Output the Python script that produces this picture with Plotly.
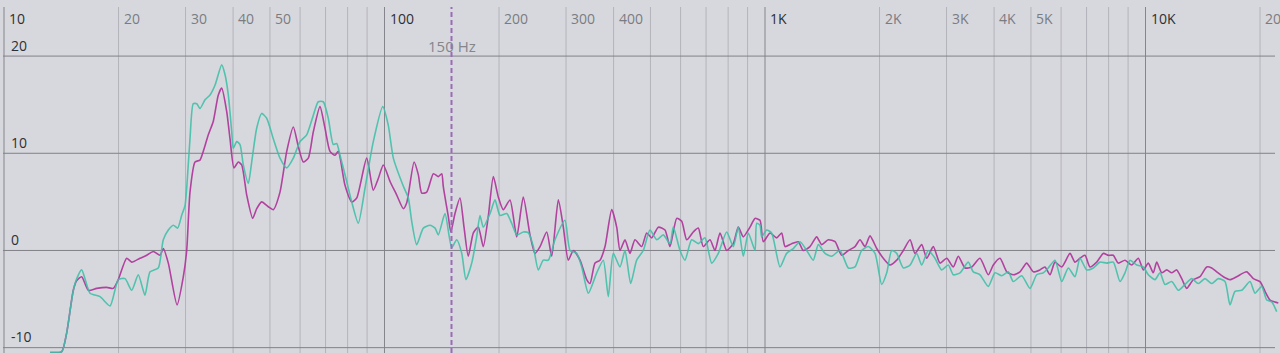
import math
import plotly.graph_objects as go

# ---------------- data (Hz, dB) ----------------
teal_hz = [13.21, 14.18, 14.61, 15.21, 15.53, 16.00, 16.83, 17.88, 19.00, 19.97, 20.80, 21.66, 22.54, 23.47,
           24.20, 25.44, 26.22, 27.03, 27.86, 28.60, 29.30, 29.90, 30.21, 30.82, 31.44, 32.10, 32.74, 33.75,
           34.79, 35.85, 37.34, 38.09, 38.86, 39.67, 40.05, 40.89, 41.71, 42.55, 43.86, 44.77, 46.15, 47.55,
           49.02, 51.02, 53.13, 55.34, 57.59, 59.97, 62.45, 64.99, 66.98, 69.04, 71.16, 73.35, 74.87, 76.40,
           79.55, 81.99, 85.34, 88.87, 93.44, 98.92, 102.3, 105.5, 112.1, 115.5, 117.9, 121.5, 126.5, 131.7,
           135.8, 138.5, 144.2, 150.2, 154.8, 159.6, 163.7, 169.5, 174.7, 178.2, 181.8, 189.4, 195.2, 201.2,
           209.5, 215.9, 222.6, 231.6, 238.9, 246.1, 253.6, 261.4, 269.5, 280.6, 298.1, 307.3, 320.0, 329.9,
           343.3, 361.2, 375.9, 387.4, 399.3, 415.8, 428.6, 443.6, 460.0, 478.8, 498.6, 519.3, 540.4, 562.8,
           574.1, 597.9, 616.2, 641.6, 667.8, 695.4, 724.2, 753.8, 793.1, 825.4, 850.8, 876.9, 903.9, 941.3,
           951.0, 970.2, 980.2, 1010, 1041, 1095, 1140, 1187, 1236, 1287, 1339, 1381, 1438, 1497, 1574, 1656,
           1724, 1795, 1869, 1946, 2026, 2089, 2153, 2219, 2309, 2406, 2504, 2581, 2686, 2797, 2913, 3032,
           3125, 3255, 3422, 3527, 3673, 3863, 4022, 4189, 4360, 4493, 4728, 4971, 5177, 5385, 5551, 5783,
           6023, 6268, 6527, 6727, 7005, 7291, 7594, 7907, 8229, 8570, 8833, 9105, 9481, 9868, 10171, 10592,
           10917, 11253, 11719, 12196, 12700, 13225, 13764, 14334, 14927, 15536, 16179, 16675, 17189, 17899,
           18822, 19401, 20203, 20823, 21462, 22121]
teal_db = [-10.5, -10.4, -8.5, -4.1, -2.9, -2.0, -4.4, -4.75, -5.7, -3.0, -2.9, -4.1, -2.5, -4.6,
           -2.2, -1.8, 1.1, 2.1, 2.6, 2.3, 3.6, 4.6, 6.4, 11.5, 15.1, 15.1, 14.6, 15.5,
           16.0, 17.0, 19.1, 18.1, 16.0, 12.2, 10.5, 11.2, 10.9, 8.8, 6.9, 9.1, 12.6, 14.1,
           13.6, 11.5, 9.5, 8.5, 9.5, 11.2, 11.9, 13.9, 15.3, 15.3, 13.6, 10.9, 11.0, 9.8,
           7.1, 5.0, 2.8, 6.4, 11.2, 14.8, 12.9, 9.5, 6.6, 5.4, 3.0, 0.6, 2.3, 2.6,
           2.3, 1.6, 3.8, 0.3, 1.1, -0.3, -3.0, -1.3, 1.4, 3.6, 2.4, 3.8, 5.2, 3.6,
           3.8, 2.8, 1.6, 1.9, 1.8, 0.4, -2.0, -1.0, -1.0, 1.1, 3.1, 0.0, -0.3, -1.7,
           -4.4, -2.3, -1.0, -4.75, -0.3, -1.7, 0.0, -3.4, -1.0, 0.0, 2.1, 1.1, 1.6, 0.7,
           2.4, 0.0, -1.0, 1.1, 0.7, 1.3, -1.3, -0.3, 1.9, 0.4, 2.4, -0.6, 1.8, 0.0,
           2.8, 2.6, 1.4, 2.1, 1.8, -1.7, -0.3, 0.2, 0.9, 0.0, -1.0, 0.6, -0.3, -0.6, 0.0, -1.8,
           -1.7, 0.0, 0.4, -0.3, -3.5, -2.3, 0.0, -0.3, -1.8, -1.5, -0.3, -1.5, 0.0, -0.8, -2.0, -1.5,
           -2.5, -2.3, -1.2, -2.2, -2.5, -3.7, -2.3, -2.6, -2.2, -3.2, -2.6, -3.9, -2.5, -2.3, -1.8, -1.0,
           -3.2, -1.8, -2.7, -0.8, -2.0, -1.8, -1.2, -1.3, -1.2, -3.2, -2.3, -1.0, -1.5, -1.7, -2.5, -3.0,
           -2.3, -3.5, -3.2, -4.1, -3.5, -2.9, -3.4, -2.9, -3.4, -2.9, -3.2, -5.6, -4.2, -4.1,
           -3.2, -4.4, -3.7, -5.1, -5.3, -6.3]

magenta_hz = [13.21, 14.18, 14.61, 15.21, 15.53, 16.00, 16.66, 17.52, 18.62, 19.38, 19.97, 21.01, 21.66, 22.77,
              23.72, 24.68, 25.70, 26.22, 27.03, 28.50, 29.60, 30.21, 30.82, 31.77, 32.74, 33.40, 34.43, 35.49,
              36.58, 37.34, 38.48, 39.26, 40.22, 41.28, 42.14, 43.44, 45.04, 46.15, 47.55, 49.49, 51.02, 53.13,
              55.34, 57.59, 59.36, 61.18, 63.06, 64.99, 67.68, 69.75, 71.90, 74.11, 75.60, 78.74, 81.99, 84.52,
              89.79, 93.44, 96.31, 99.28, 103.4, 107.7, 112.1, 114.4, 119.6, 122.7, 125.3, 129.1, 134.4, 138.5,
              141.4, 142.7, 147.1, 149.4, 153.2, 157.9, 161.8, 166.0, 171.2, 176.4, 181.8, 187.4, 193.2, 199.1,
              205.2, 213.7, 222.6, 231.6, 241.2, 248.6, 256.3, 266.9, 275.1, 286.3, 295.1, 304.1, 313.5, 326.5,
              340.0, 346.8, 357.5, 368.4, 379.8, 395.5, 407.6, 415.8, 428.6, 441.8, 455.3, 474.1, 488.7, 503.8,
              524.3, 546.0, 562.8, 586.1, 604.1, 622.6, 647.8, 667.8, 688.3, 716.8, 738.9, 761.6, 793.1, 825.4,
              850.8, 876.9, 913.2, 941.3, 970.2, 989.8, 1031, 1073, 1106, 1129, 1175, 1223, 1261, 1313, 1367,
              1409, 1467, 1528, 1591, 1656, 1724, 1777, 1832, 1888, 1966, 2046, 2131, 2219, 2309, 2406, 2479,
              2581, 2661, 2769, 2884, 3003, 3125, 3221, 3354, 3493, 3673, 3863, 3981, 4146, 4318, 4493, 4679,
              4873, 5072, 5279, 5441, 5611, 5783, 6023, 6333, 6527, 6727, 6934, 7146, 7443, 7748, 7984, 8229,
              8482, 8833, 9199, 9574, 9868, 10171, 10483, 10701, 11030, 11370, 11719, 12079, 12450, 12831,
              13353, 13907, 14483, 14927, 15386, 16013, 16675, 17367, 18449, 19202, 19996, 20610, 21243,
              21895, 22336]
magenta_db = [-10.5, -10.4, -8.5, -4.1, -3.1, -2.7, -4.1, -3.9, -3.8, -3.9, -3.0, -0.8, -1.2, -0.8,
              -0.5, -0.1, -0.5, 0.2, -1.3, -5.6, -2.7, 0.0, 6.0, 9.1, 9.3, 10.2, 11.9, 13.3,
              16.0, 16.7, 14.3, 11.5, 8.5, 9.1, 8.8, 5.7, 3.3, 4.3, 5.0, 4.5, 4.2, 6.0,
              10.2, 12.7, 10.7, 9.1, 9.5, 12.2, 14.8, 12.6, 10.2, 9.8, 10.2, 6.7, 5.0, 5.4,
              9.5, 6.2, 7.4, 8.8, 7.1, 5.7, 4.3, 4.9, 9.1, 7.8, 5.9, 6.0, 7.9, 7.6,
              7.9, 6.6, 3.5, 1.9, 3.8, 5.4, 2.4, -0.6, 1.8, 2.4, 0.4, 3.5, 7.6, 5.5,
              4.2, 5.2, 1.4, 5.5, 1.6, -0.3, 0.4, 1.9, -0.6, 5.2, 2.4, -1.0, 0.0, -1.0,
              -3.0, -3.4, -1.3, -1.0, 0.4, 4.2, 2.4, 0.0, 1.1, -0.3, 1.1, 0.4, 1.8, 1.3,
              2.4, 2.1, 0.4, 3.3, 3.0, 1.1, 1.9, 2.3, 0.4, 1.1, 0.0, 1.8, 0.0, 0.7,
              2.4, 1.4, 2.4, 3.3, 3.1, 0.9, 1.8, 1.3, 1.8, 0.4, 0.7, 0.9, 0.0, 0.4, 1.4,
              0.6, 1.1, 0.9, -0.5, 0.0, 0.4, 1.1, 0.4, 1.5, 0.2, -0.8, -1.5, -1.0, 0.0, 1.1, -0.3,
              0.6, -0.8, 0.4, -1.3, -0.8, -1.7, -0.6, -1.8, -1.7, -0.8, -2.5, -1.5, -0.8, -2.2, -2.5, -2.2,
              -1.3, -2.2, -2.0, -1.7, -2.5, -1.2, -1.7, -0.3, -1.2, -0.8, -0.5, -1.7, -1.2, -0.3, -0.5, -0.5,
              -1.3, -1.0, -1.5, -0.8, -2.0, -1.3, -2.3, -1.2, -2.3, -2.0, -2.3, -2.0, -2.9, -3.9,
              -3.0, -2.7, -1.7, -1.8, -2.2, -2.7, -3.0, -2.7, -2.2, -2.9, -3.2, -4.2, -5.1,
              -5.3, -5.4]

major_grid_hz = [10, 100, 1000, 10000]
minor_grid_hz = [20, 30, 40, 50, 60, 70, 80, 90, 200, 300, 400, 500, 600, 700, 800, 900,
                 2000, 3000, 4000, 5000, 6000, 7000, 8000, 9000, 20000]
x_tick_hz = [10, 20, 30, 40, 50, 100, 200, 300, 400, 1000, 2000, 3000, 4000, 5000, 10000, 20000]
x_tick_text = ["10", "20", "30", "40", "50", "100", "200", "300", "400", "1K", "2K", "3K", "4K", "5K", "10K", "20K"]
y_levels = [20, 10, 0, -10]
marker_hz = 150
marker_text = "150 Hz"

# ---------------- figure ----------------
BG = "#d7d8dd"
TEAL = "#3fc0a8"
MAGENTA = "#b03a9c"
FONT = "Open Sans"

fig = go.Figure()
fig.add_trace(go.Scatter(x=magenta_hz, y=magenta_db, mode="lines",
                         line=dict(color=MAGENTA, width=1.6, shape="spline", smoothing=0.6),
                         opacity=0.95, hoverinfo="skip"))
fig.add_trace(go.Scatter(x=teal_hz, y=teal_db, mode="lines",
                         line=dict(color=TEAL, width=1.6, shape="spline", smoothing=0.6),
                         opacity=0.88, hoverinfo="skip"))

shapes = []
top = 1 - 7 / 353
for f in minor_grid_hz:
    shapes.append(dict(type="line", xref="x", yref="paper", x0=f, x1=f, y0=0, y1=top,
                       line=dict(color="#b3b4ba", width=1), layer="below"))
for f in major_grid_hz:
    shapes.append(dict(type="line", xref="x", yref="paper", x0=f, x1=f, y0=0, y1=top,
                       line=dict(color="#85868c", width=1), layer="below"))
for v in y_levels:
    shapes.append(dict(type="line", xref="paper", yref="y", x0=3 / 1280, x1=1275 / 1280, y0=v, y1=v,
                       line=dict(color="#808187", width=1), layer="below"))
shapes.append(dict(type="line", xref="x", yref="paper", x0=marker_hz, x1=marker_hz, y0=0, y1=top,
                   line=dict(color="#9a6cb8", width=2, dash="5px,3px"), layer="above"))

annotations = []
for f, t in zip(x_tick_hz, x_tick_text):
    major = f in major_grid_hz
    annotations.append(dict(x=math.log10(f), y=1 - 18 / 353, xref="x", yref="paper", text=t,
                            showarrow=False, xanchor="left", yanchor="middle", xshift=3,
                            font=dict(family=FONT, size=14, color="#2e2f33" if major else "#7b7c82")))
for v in y_levels:
    annotations.append(dict(x=9 / 1280, y=v, xref="paper", yref="y", text=str(v), showarrow=False,
                            xanchor="left", yanchor="middle", yshift=11,
                            font=dict(family=FONT, size=14, color="#2e2f33")))
annotations.append(dict(x=math.log10(marker_hz), y=1 - 46 / 353, xref="x", yref="paper", text=marker_text,
                        showarrow=False, xanchor="center", yanchor="middle",
                        font=dict(family=FONT, size=15, color="#85868c")))

fig.update_layout(
    width=1280, height=353,
    margin=dict(l=0, r=0, t=0, b=0),
    paper_bgcolor=BG, plot_bgcolor=BG,
    showlegend=False,
    xaxis=dict(type="log", range=[1 - 4 / 380.5, 1 + 1276 / 380.5], showgrid=False, zeroline=False,
               showticklabels=False, ticks="", fixedrange=True),
    yaxis=dict(range=[-10.55, 25.77], showgrid=False, zeroline=False, showticklabels=False,
               ticks="", fixedrange=True),
    shapes=shapes,
    annotations=annotations,
)

fig.write_html("out.html", config={"displayModeBar": False})
